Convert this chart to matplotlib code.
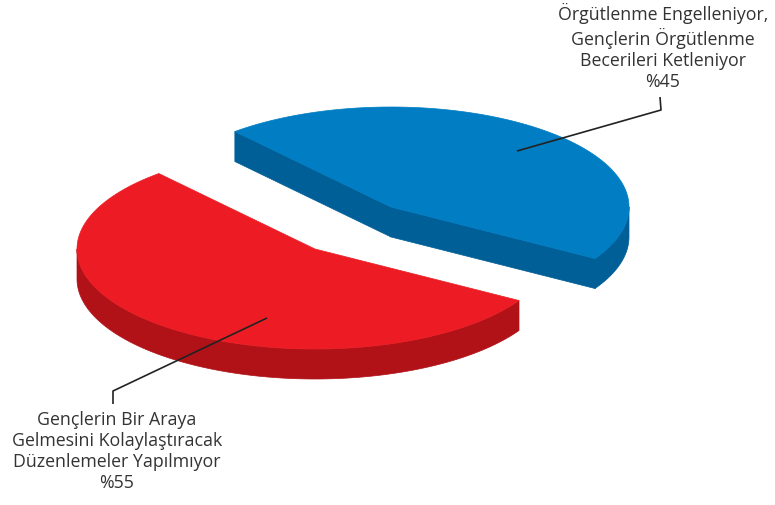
import numpy as np
import matplotlib
matplotlib.use("Agg")
import matplotlib.pyplot as plt
from matplotlib.patches import Polygon

# ---- data ----
labels = ["Örgütlenme Engelleniyor,\nGençlerin Örgütlenme\nBecerileri Ketleniyor\n%45",
          "Gençlerin Bir Araya\nGelmesini Kolaylaştıracak\nDüzenlemeler Yapılmıyor\n%55"]
values = [45, 55]
top_colors = ["#007DC3", "#ED1C24"]
side_colors = ["#005F97", "#B11218"]

# ---- geometry (pixel space) ----
W, H = 775, 506
start_angle = -31.0
centers = [(391, 208), (315, 250)]
A, B = 238, 100
depth = 30

fig = plt.figure(figsize=(W / 100, H / 100), dpi=100)
ax = fig.add_axes([0, 0, 1, 1])
ax.set_xlim(0, W)
ax.set_ylim(H, 0)
ax.axis("off")

total = sum(values)
angles = []
a0 = start_angle
for v in values:
    a1 = a0 + 360.0 * v / total
    angles.append((a0, a1))
    a0 = a1


def rim(cx, cy, th, dz=0):
    t = np.radians(th)
    return cx + A * np.cos(t), cy - B * np.sin(t) + dz


def visible_ranges(t0, t1):
    out = []
    for k in range(-1, 3):
        lo, hi = 180 + 360 * k, 360 + 360 * k
        s, e = max(t0, lo), min(t1, hi)
        if e > s:
            out.append((s, e))
    return out


for i, ((t0, t1), (cx, cy)) in enumerate(zip(angles, centers)):
    for th, sign in ((t0, -1), (t1, 1)):
        normal = np.radians(th + sign * 90)
        if np.sin(normal) < 0:
            x, y = rim(cx, cy, th)
            poly = [(cx, cy), (x, y), (x, y + depth), (cx, cy + depth)]
            ax.add_patch(Polygon(poly, closed=True, fc=side_colors[i], ec=side_colors[i], lw=0.5))
    for s, e in visible_ranges(t0, t1):
        ts = np.linspace(s, e, 200)
        xs, ys = rim(cx, cy, ts)
        pts = list(zip(xs, ys)) + list(zip(xs[::-1], (ys + depth)[::-1]))
        ax.add_patch(Polygon(pts, closed=True, fc=side_colors[i], ec=side_colors[i], lw=0.5))
    ts = np.linspace(t0, t1, 300)
    xs, ys = rim(cx, cy, ts)
    pts = [(cx, cy)] + list(zip(xs, ys))
    ax.add_patch(Polygon(pts, closed=True, fc=top_colors[i], ec=top_colors[i], lw=0.5))

# leader lines
ax.plot([517, 661, 660], [152, 111, 98], color="#222222", lw=1.2, solid_capstyle="butt")
ax.plot([267, 113, 113], [319, 392, 405], color="#222222", lw=1.2, solid_capstyle="butt")

font = ["Open Sans", "DejaVu Sans"]
ax.text(663, 3, labels[0], ha="center", va="top", fontsize=12.8, color="#333333",
        family=font, linespacing=1.22)
ax.text(117, 411, labels[1], ha="center", va="top", fontsize=12.8, color="#333333",
        family=font, linespacing=1.22)

fig.savefig("out.png", dpi=100)
